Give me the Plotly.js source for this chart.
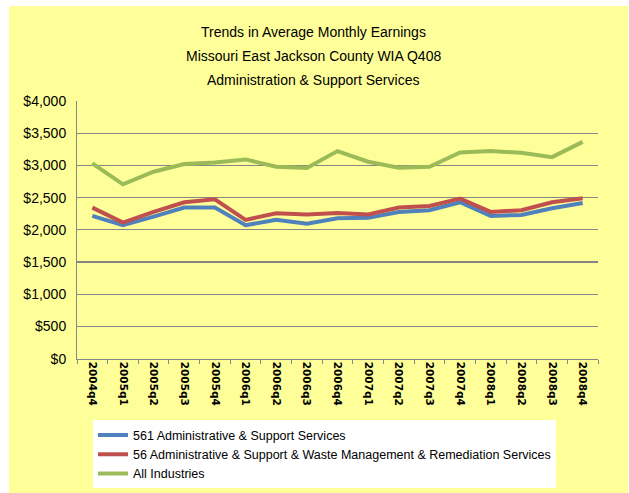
<!DOCTYPE html>
<html>
<head>
<meta charset="utf-8">
<script src="https://cdn.plot.ly/plotly-3.0.1.min.js"></script>
<style>
  html, body { margin: 0; padding: 0; background: #ffffff; }
  #chart { position: absolute; left: 9px; top: 6px; width: 619px; height: 487px; }
</style>
</head>
<body>
<div id="chart"></div>
<script>
const quarters = ["2004q4","2005q1","2005q2","2005q3","2005q4","2006q1","2006q2","2006q3","2006q4","2007q1","2007q2","2007q3","2007q4","2008q1","2008q2","2008q3","2008q4"];
const adminSupport561 = [2216, 2072, 2206, 2345, 2345, 2072, 2155, 2093, 2180, 2186, 2278, 2304, 2428, 2216, 2232, 2335, 2418];
const adminWaste56 = [2345, 2113, 2278, 2428, 2474, 2155, 2258, 2237, 2263, 2237, 2345, 2371, 2485, 2278, 2304, 2428, 2490];
const allIndustries = [3031, 2706, 2902, 3021, 3046, 3093, 2979, 2959, 3222, 3057, 2964, 2979, 3201, 3222, 3196, 3129, 3366];
const seriesNames = ["561 Administrative & Support Services", "56 Administrative & Support & Waste Management & Remediation Services", "All Industries"];
const titleLines = ["Trends in Average Monthly Earnings", "Missouri East Jackson County WIA Q408", "Administration & Support Services"];
const yTickVals = [0, 500, 1000, 1500, 2000, 2500, 3000, 3500, 4000];
const yTickText = ["$0", "$500", "$1,000", "$1,500", "$2,000", "$2,500", "$3,000", "$3,500", "$4,000"];

const FONT = "'Liberation Sans', Arial, sans-serif";
const colors = ["#4F81BD", "#C0504D", "#9BBB59"];
const data = [adminSupport561, adminWaste56, allIndustries].map((vals, i) => ({
  type: "scatter",
  mode: "lines",
  x: quarters,
  y: vals,
  name: seriesNames[i],
  line: { color: colors[i], width: 4 }
}));

// paper area: div y 95 .. 482 (height 387)
const PTOP = 95, PBOT = 482, PH = PBOT - PTOP;
const py = (divY) => (PBOT - divY) / PH;

const annotations = titleLines.map((t, i) => ({
  text: t,
  xref: "paper",
  yref: "paper",
  x: 0.453,
  y: py(26 + i * 24),
  xanchor: "center",
  yanchor: "middle",
  showarrow: false,
  font: { family: FONT, size: 14, color: "#000000" }
}));

const layout = {
  width: 619,
  height: 487,
  paper_bgcolor: "#FFFF99",
  plot_bgcolor: "rgba(0,0,0,0)",
  margin: { l: 68, r: 30, t: PTOP, b: 487 - PBOT },
  showlegend: true,
  legend: {
    x: 0.0307,
    y: py(416),
    xanchor: "left",
    yanchor: "top",
    bgcolor: "#FFFFFF",
    borderwidth: 0,
    font: { family: FONT, size: 12.5, color: "#000000" },
    tracegroupgap: 0,
    itemwidth: 30
  },
  xaxis: {
    type: "category",
    anchor: "y",
    tickangle: 90,
    tickfont: { family: "'DejaVu Sans', sans-serif", size: 10.5, color: "#000000", weight: "bold" },
    showgrid: false,
    showline: true,
    linecolor: "#868686",
    linewidth: 1,
    ticks: "outside",
    tickson: "boundaries",
    ticklen: 4,
    tickcolor: "#868686",
    range: [-0.5, 16.5],
    automargin: false,
    fixedrange: true
  },
  yaxis: {
    domain: [py(354), 1],
    range: [0, 4000],
    tickvals: yTickVals,
    ticktext: yTickText,
    tickfont: { family: FONT, size: 14, color: "#000000" },
    showgrid: true,
    gridcolor: "#868686",
    gridwidth: 1.3,
    showline: true,
    linecolor: "#868686",
    ticks: "",
    ticklabelstandoff: 7,
    zeroline: false,
    automargin: false,
    fixedrange: true
  },
  annotations: annotations
};

Plotly.newPlot("chart", data, layout, { displayModeBar: false, staticPlot: true });
</script>
</body>
</html>
